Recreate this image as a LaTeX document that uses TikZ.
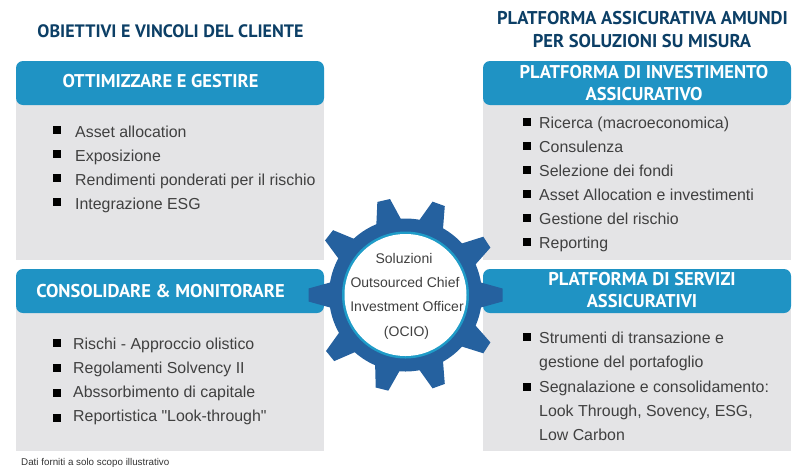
\documentclass[tikz,border=0pt]{standalone}
\usepackage{fontspec}
\setmainfont{Liberation Sans}
\newfontfamily\bodyfont{Liberation Sans}
\newfontfamily\headfont{PT Sans}
\usepackage{xcolor}
\definecolor{headblue}{HTML}{1F93C4}
\definecolor{panelgray}{HTML}{E4E4E6}
\definecolor{gearblue}{HTML}{25619F}
\definecolor{ringblue}{HTML}{1F9CC8}
\definecolor{titleblue}{HTML}{0C3F66}
\definecolor{bodygray}{HTML}{404040}
\tikzset{
    panel/.style={fill=panelgray, draw=none},
    header/.style={fill=headblue, draw=none, rounded corners=7},
    headtext/.style={text=white, font=\headfont\bfseries\fontsize{18.5}{22}\selectfont, inner sep=0pt},
    title/.style={text=titleblue, font=\headfont\bfseries\fontsize{18.5}{23}\selectfont, inner sep=0pt},
    entry/.style={anchor=west, inner sep=0pt, yshift=-1.5, text=bodygray, text height=11.5, text depth=3.5, font=\bodyfont\fontsize{15.9}{19}\selectfont},
    bullet/.style={fill=black, minimum size=8, inner sep=0pt},
    gearline/.style={text=bodygray, inner sep=0pt, yshift=-1.5, text height=10, text depth=3, font=\fontsize{14}{17}\selectfont},
}
\begin{document}
\begin{tikzpicture}[x=1pt, y=-1pt]
    \useasboundingbox (0,0) rectangle (809,472);
    % panels
    \foreach \xa/\xb in {16/324, 483/791} {
        \fill[panel] (\xa,100) rectangle (\xb,260);
        \fill[panel] (\xa,308) rectangle (\xb,451);
        \fill[header] (\xa,61) rectangle (\xb,105);
        \fill[header] (\xa,269) rectangle (\xb,313);
    }
    % titles
    \node[title, font=\headfont\bfseries\fontsize{18}{23}\selectfont] (titleleft) at (170.5,31) {OBIETTIVI E VINCOLI DEL CLIENTE};
    \node[title] (titleright) at (642.5,18) {PLATFORMA ASSICURATIVA AMUNDI};
    \node[title] (titleright2) at (642,41) {PER SOLUZIONI SU MISURA};
    % headers
    \node[headtext] (optimise) at (160.5,81) {OTTIMIZZARE E GESTIRE};
    \node[headtext] (consolidate) at (160.5,291) {CONSOLIDARE \& MONITORARE};
    \node[headtext] (invest) at (644,72) {PLATFORMA DI INVESTIMENTO};
    \node[headtext] (invest2) at (644,94) {ASSICURATIVO};
    \node[headtext] (services) at (642,279) {PLATFORMA DI SERVIZI};
    \node[headtext] (services2) at (642,301) {ASSICURATIVI};
    % lists
    \foreach \n/\y/\entrytext in {1/132/Asset allocation, 2/156/Exposizione,
        3/180/Rendimenti ponderati per il rischio, 4/204/Integrazione ESG} {
        \node[bullet] (bulleta\n) at (57,\y-2) {};
        \node[entry] (entrya\n) at (75,\y) {\entrytext};
    }
    \foreach \n/\y/\entrytext in {1/344/Rischi - Approccio olistico, 2/368/Regolamenti Solvency II,
        3/392/Abssorbimento di capitale, 4/416/Reportistica "Look-through"} {
        \node[bullet] (bulletb\n) at (57,\y+\n-2) {};
        \node[entry] (entryb\n) at (73,\y) {\entrytext};
    }
    \foreach \n/\y/\entrytext in {1/123/Ricerca (macroeconomica), 2/147/Consulenza, 3/171/Selezione dei fondi,
        4/195/Asset Allocation e investimenti, 5/219/Gestione del rischio, 6/243/Reporting} {
        \node[bullet] (bulletc\n) at (527,\y-1) {};
        \node[entry] (entryc\n) at (539,\y) {\entrytext};
    }
    \foreach \n/\y in {1/337, 2/387} {
        \node[bullet] (bulletd\n) at (527,\y) {};
    }
    \foreach \n/\y/\entrytext in {1/338/Strumenti di transazione e, 2/362/gestione del portafoglio,
        3/387/Segnalazione e consolidamento:, 4/411/{Look Through, Sovency, ESG,}, 5/435/Low Carbon} {
        \node[entry] (entryd\n) at (539,\y) {\entrytext};
    }
    % gear
    \foreach \angle in {0, 33, 70, 104, 141, 180, 218, 257, 290, 327} {
        \fill[gearblue, shift={(405.5,295)}, rotate=-\angle]
            (70,-14) -- (97,-6.5) -- (97,6.5) -- (70,14) -- cycle;
    }
    \fill[gearblue] (405.5,295) circle (76.5);
    \fill[ringblue] (405.5,295) circle (63.5);
    \fill[white] (405.5,295) circle (61);
    \node[gearline] (ocio1) at (404,258) {Soluzioni};
    \node[gearline] (ocio2) at (405,282) {Outsourced Chief};
    \node[gearline] (ocio3) at (407,306) {Investment Officer};
    \node[gearline] (ocio4) at (406.5,331) {(OCIO)};
    % note
    \node[anchor=west, inner sep=0pt, text=black!80, font=\fontsize{9.8}{11}\selectfont] (note) at (21,463) {Dati forniti a solo scopo illustrativo};
\end{tikzpicture}
\end{document}
